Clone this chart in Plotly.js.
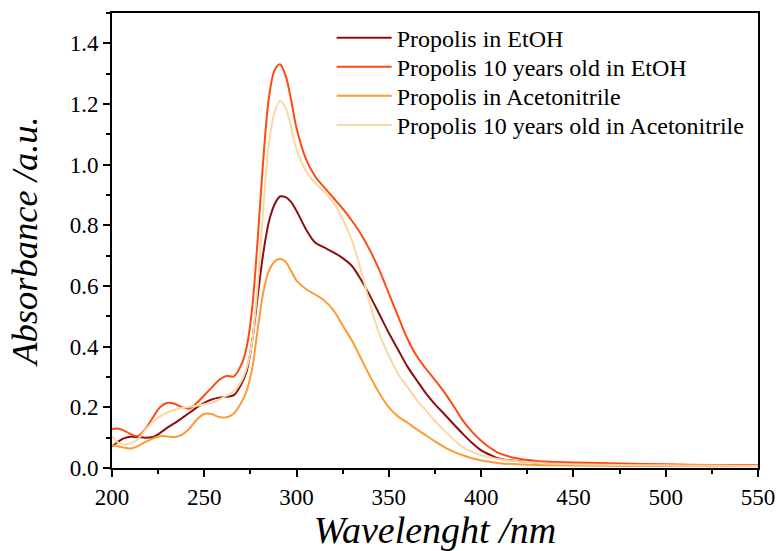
<!DOCTYPE html>
<html>
<head>
<meta charset="utf-8">
<script src="https://cdn.plot.ly/plotly-3.0.1.min.js"></script>
<style>html,body{margin:0;padding:0;background:#fff;}#chart{width:778px;height:551px;}</style>
</head>
<body>
<div id="chart"></div>
<script>
const wavelength = [200, 203, 206, 210, 214, 218, 222, 226, 230, 234, 238, 242, 246, 250, 254, 258, 262, 266, 270, 273, 276, 279, 282, 285, 288, 291, 294, 297, 300, 305, 310, 315, 320, 325, 330, 335, 340, 345, 350, 355, 360, 365, 370, 375, 380, 385, 390, 395, 400, 405, 410, 420, 430, 440, 450, 475, 500, 525, 550];

const propolisEtOH = [0.072, 0.085, 0.097, 0.103, 0.102, 0.100, 0.102, 0.115, 0.133, 0.148, 0.165, 0.182, 0.200, 0.215, 0.226, 0.232, 0.235, 0.240, 0.275, 0.320, 0.420, 0.570, 0.710, 0.812, 0.868, 0.895, 0.893, 0.877, 0.847, 0.788, 0.743, 0.727, 0.711, 0.692, 0.666, 0.620, 0.565, 0.505, 0.445, 0.390, 0.335, 0.290, 0.247, 0.210, 0.178, 0.145, 0.113, 0.083, 0.058, 0.043, 0.031, 0.023, 0.018, 0.015, 0.013, 0.011, 0.009, 0.008, 0.007];

const propolis10EtOH = [0.128, 0.130, 0.125, 0.112, 0.105, 0.128, 0.165, 0.200, 0.215, 0.212, 0.200, 0.196, 0.215, 0.240, 0.265, 0.290, 0.303, 0.302, 0.340, 0.400, 0.530, 0.760, 1.020, 1.220, 1.310, 1.331, 1.295, 1.215, 1.120, 1.020, 0.962, 0.925, 0.890, 0.855, 0.815, 0.770, 0.715, 0.650, 0.575, 0.500, 0.427, 0.370, 0.328, 0.290, 0.250, 0.205, 0.157, 0.120, 0.090, 0.066, 0.048, 0.031, 0.023, 0.020, 0.018, 0.015, 0.012, 0.010, 0.009];

const propolisACN = [0.075, 0.072, 0.068, 0.064, 0.072, 0.085, 0.097, 0.105, 0.104, 0.102, 0.110, 0.130, 0.160, 0.178, 0.178, 0.168, 0.167, 0.180, 0.215, 0.255, 0.330, 0.460, 0.580, 0.650, 0.680, 0.690, 0.680, 0.650, 0.618, 0.590, 0.572, 0.552, 0.520, 0.470, 0.420, 0.360, 0.300, 0.245, 0.200, 0.170, 0.150, 0.128, 0.108, 0.088, 0.069, 0.054, 0.042, 0.032, 0.025, 0.020, 0.016, 0.012, 0.010, 0.009, 0.008, 0.007, 0.007, 0.006, 0.006];

const propolis10ACN = [0.105, 0.085, 0.078, 0.082, 0.095, 0.125, 0.152, 0.170, 0.183, 0.192, 0.198, 0.202, 0.205, 0.210, 0.215, 0.225, 0.238, 0.252, 0.285, 0.330, 0.420, 0.610, 0.860, 1.070, 1.170, 1.210, 1.188, 1.125, 1.050, 0.980, 0.940, 0.910, 0.875, 0.820, 0.750, 0.650, 0.535, 0.440, 0.370, 0.310, 0.268, 0.225, 0.190, 0.155, 0.124, 0.095, 0.069, 0.053, 0.042, 0.035, 0.029, 0.022, 0.017, 0.014, 0.012, 0.010, 0.009, 0.008, 0.007];

const seriesNames = ["Propolis in EtOH", "Propolis 10 years old in EtOH", "Propolis in Acetonitrile", "Propolis 10 years old in Acetonitrile"];
const seriesValues = [propolisEtOH, propolis10EtOH, propolisACN, propolis10ACN];
const seriesColors = ["#8e0f0f", "#ff4a12", "#ff9a35", "#f8d8a4"];

const legendIds = ["legend", "legend2", "legend3", "legend4"];

const traces = seriesValues.map((vals, i) => ({
  x: wavelength,
  y: vals,
  type: "scatter",
  mode: "lines",
  name: seriesNames[i],
  legend: legendIds[i],
  line: {color: seriesColors[i], width: 2, shape: "spline", smoothing: 0.9}
}));

const serif = "Liberation Serif";

const legendRowY = [0.945, 0.881, 0.817, 0.753];
function legendBox(y) {
  return {x: 0.34, y: y, xanchor: "left", yanchor: "middle", bgcolor: "rgba(0,0,0,0)",
          font: {family: serif, size: 24, color: "#000"}, itemwidth: 55};
}

const layout = {
  width: 778, height: 551,
  margin: {l: 112, r: 20, t: 13, b: 83},
  paper_bgcolor: "#fff", plot_bgcolor: "#fff",
  font: {family: serif, size: 23, color: "#000"},
  showlegend: true,
  legend: legendBox(legendRowY[0]),
  legend2: legendBox(legendRowY[1]),
  legend3: legendBox(legendRowY[2]),
  legend4: legendBox(legendRowY[3]),
  xaxis: {
    showline: true, linecolor: "#000", linewidth: 2, mirror: true,
    ticks: "outside", ticklen: 7, tickwidth: 2, tickcolor: "#000",
    showgrid: false, zeroline: false,
    tickfont: {family: serif, size: 23, color: "#000"},
    range: [200, 550], tick0: 200, dtick: 50,
    minor: {ticks: "outside", ticklen: 4, tickwidth: 2, tickcolor: "#000", dtick: 25, showgrid: false},
    title: {text: "Wavelenght /nm", font: {family: serif, size: 38, color: "#000", style: "italic"}, standoff: 13}
  },
  yaxis: {
    showline: true, linecolor: "#000", linewidth: 2, mirror: true,
    ticks: "outside", ticklen: 7, tickwidth: 2, tickcolor: "#000",
    showgrid: false, zeroline: false,
    tickfont: {family: serif, size: 23, color: "#000"},
    range: [0, 1.5], tick0: 0, dtick: 0.2, tickformat: ".1f",
    minor: {ticks: "outside", ticklen: 4, tickwidth: 2, tickcolor: "#000", dtick: 0.1, showgrid: false},
    title: {text: "Absorbance /a.u.", font: {family: serif, size: 36.5, color: "#000", style: "italic"}, standoff: 21}
  }
};

Plotly.newPlot("chart", traces, layout, {displayModeBar: false, staticPlot: true});
</script>
</body>
</html>
